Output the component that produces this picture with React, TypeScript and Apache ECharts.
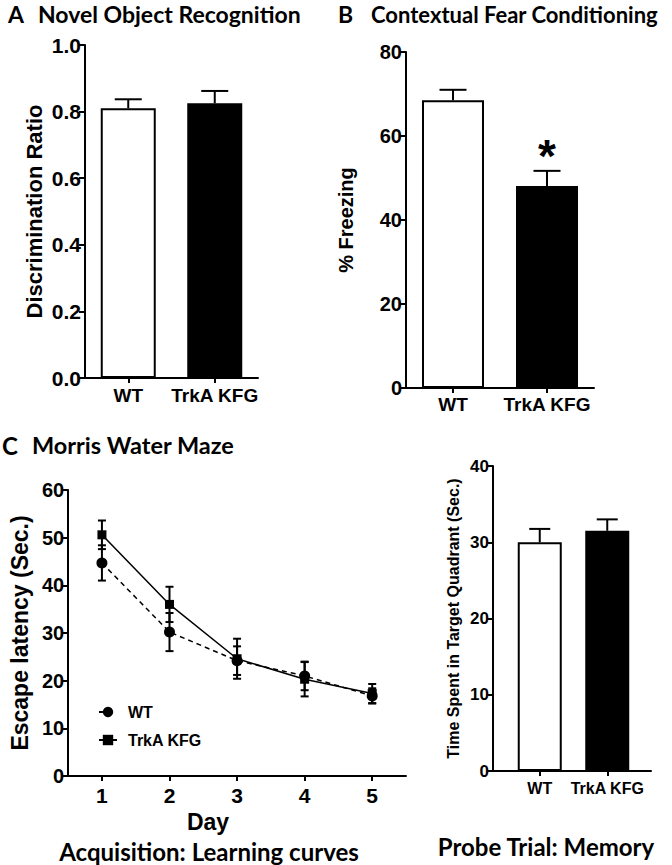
import React, { useEffect, useRef } from 'react';
import * as echarts from 'echarts';

const groups = ['WT', 'TrkA KFG'];
const norMean = [0.81, 0.825];
const norSem = [0.027, 0.037];
const fearMean = [68.5, 48.1];
const fearSem = [2.5, 3.6];
const fearSig = ['', '*'];
const days = ['1', '2', '3', '4', '5'];
const wtLatency = [44.7, 30.2, 24.2, 21.0, 16.8];
const wtLatencySem = [3.7, 4.0, 3.0, 3.0, 1.6];
const kfgLatency = [50.6, 36.0, 24.6, 20.3, 17.3];
const kfgLatencySem = [3.0, 3.7, 4.2, 3.6, 2.0];
const probeMean = [30.0, 31.5];
const probeSem = [1.75, 1.5];

const ARIAL = 'Liberation Sans, Arial, sans-serif';
const CAL = 'Lato, Carlito, sans-serif';
const BLACK = '#000';

const axisLine = { show: true, lineStyle: { color: BLACK, width: 2 } };
const axisTick = { show: true, length: 6, lineStyle: { color: BLACK, width: 2 } };

function upperErr(capHalf: number) {
  return (params: any, api: any) => {
    const i = api.value(0);
    const m = api.value(1);
    const e = api.value(2);
    const base = api.coord([i, m]);
    const top = api.coord([i, m + e]);
    const style = { stroke: BLACK, lineWidth: 2 };
    return {
      type: 'group',
      children: [
        { type: 'line', shape: { x1: base[0], y1: base[1], x2: top[0], y2: top[1] }, style },
        { type: 'line', shape: { x1: top[0] - capHalf, y1: top[1], x2: top[0] + capHalf, y2: top[1] }, style },
      ],
    };
  };
}

function bothErr(capHalf: number) {
  return (params: any, api: any) => {
    const i = api.value(0);
    const m = api.value(1);
    const e = api.value(2);
    const lo = api.coord([i, m - e]);
    const hi = api.coord([i, m + e]);
    const style = { stroke: BLACK, lineWidth: 2 };
    return {
      type: 'group',
      children: [
        { type: 'line', shape: { x1: lo[0], y1: lo[1], x2: hi[0], y2: hi[1] }, style },
        { type: 'line', shape: { x1: hi[0] - capHalf, y1: hi[1], x2: hi[0] + capHalf, y2: hi[1] }, style },
        { type: 'line', shape: { x1: lo[0] - capHalf, y1: lo[1], x2: lo[0] + capHalf, y2: lo[1] }, style },
      ],
    };
  };
}

const barColors = ['#fff', BLACK];

function barData(vals: number[]) {
  return vals.map((v, i) => ({
    value: v,
    itemStyle: { color: barColors[i], borderColor: BLACK, borderWidth: 2 },
  }));
}

function yAxisBase(gridIndex: number, min: number, max: number, interval: number, fontSize: number, name: string, nameSize: number, nameGap: number, decimals = 0) {
  return {
    type: 'value',
    gridIndex,
    min,
    max,
    interval,
    splitLine: { show: false },
    axisLine,
    axisTick,
    axisLabel: {
      color: BLACK,
      fontWeight: 'bold',
      fontSize,
      fontFamily: ARIAL,
      margin: 4,
      formatter: (v: number) => v.toFixed(decimals),
    },
    name,
    nameLocation: 'middle',
    nameGap,
    nameTextStyle: { color: BLACK, fontWeight: 'bold', fontSize: nameSize, fontFamily: ARIAL },
  };
}

function catAxis(gridIndex: number, data: string[], fontSize: number, margin: number) {
  return {
    type: 'category',
    gridIndex,
    data,
    axisLine,
    axisTick: { show: true, alignWithLabel: true, length: 5, lineStyle: { color: BLACK, width: 2 } },
    axisLabel: { color: BLACK, fontWeight: 'bold', fontSize, fontFamily: ARIAL, margin, interval: 0 },
    splitLine: { show: false },
  };
}

export default function App() {
  const ref = useRef<HTMLDivElement>(null);
  useEffect(() => {
    if (!ref.current) return;
    const chart = echarts.init(ref.current, undefined, { renderer: 'svg' });
    const titleStyle = (size: number) => ({ fill: BLACK, fontWeight: 'bold', fontSize: size, fontFamily: CAL });
    const option: any = {
      animation: false,
      backgroundColor: '#fff',
      grid: [
        { left: 85, top: 45, width: 173, height: 333 },
        { left: 406, top: 52, width: 188, height: 336 },
        { left: 61, top: 490, width: 345, height: 286 },
        { left: 506, top: 466, width: 135, height: 305 },
        { left: 493, top: 466, width: 158, height: 305 },
      ],
      legend: {
        data: ['WT', 'TrkA KFG'],
        left: 93,
        top: 699,
        orient: 'vertical',
        itemWidth: 18,
        itemHeight: 13,
        itemGap: 12,
        textStyle: { color: BLACK, fontWeight: 'bold', fontSize: 16, fontFamily: ARIAL, padding: [0, 0, 0, 6] },
      },
      xAxis: [
        catAxis(0, groups, 19, 8),
        catAxis(1, groups, 19, 7),
        catAxis(2, days, 21, 9),
        catAxis(3, groups, 16, 9),
        { type: 'value', gridIndex: 4, min: 0, max: 1, axisLine, axisTick: { show: false }, axisLabel: { show: false }, splitLine: { show: false } },
      ],
      yAxis: [
        yAxisBase(0, 0, 1, 0.2, 21, 'Discrimination Ratio', 22, 40, 1),
        yAxisBase(1, 0, 80, 20, 20, '% Freezing', 20, 50),
        yAxisBase(2, 0, 60, 10, 20, 'Escape latency (Sec.)', 23, 34),
        { type: 'value', gridIndex: 3, min: 0, max: 40, show: false, splitLine: { show: false } },
        yAxisBase(4, 0, 40, 10, 17, 'Time Spent in Target Quadrant (Sec.)', 16, 32),
      ],
      series: [
        { type: 'bar', xAxisIndex: 0, yAxisIndex: 0, barWidth: 55, data: barData(norMean) },
        { type: 'custom', xAxisIndex: 0, yAxisIndex: 0, z: 5, renderItem: upperErr(13.5), encode: { x: 0, y: 1 }, data: groups.map((g, i) => [i, norMean[i], norSem[i]]) },
        { type: 'bar', xAxisIndex: 1, yAxisIndex: 1, barWidth: 62, data: barData(fearMean) },
        { type: 'custom', xAxisIndex: 1, yAxisIndex: 1, z: 5, renderItem: upperErr(13.5), encode: { x: 0, y: 1 }, data: groups.map((g, i) => [i, fearMean[i], fearSem[i]]) },
        {
          type: 'scatter', xAxisIndex: 1, yAxisIndex: 1, symbolSize: 0, z: 6,
          itemStyle: { opacity: 1, color: BLACK },
          data: groups.map((g, i) => [i, fearMean[i] + fearSem[i] + 3.5, fearSig[i]]),
          label: { show: true, position: 'inside', formatter: (p: any) => p.value[2], color: BLACK, opacity: 1, fontSize: 46, fontWeight: 'bold', fontFamily: ARIAL },
        },
        {
          name: 'WT', type: 'line', xAxisIndex: 2, yAxisIndex: 2, data: wtLatency, symbol: 'circle', symbolSize: 11,
          itemStyle: { color: BLACK }, lineStyle: { color: BLACK, width: 1.5, type: [5, 4] }, z: 4,
        },
        {
          name: 'TrkA KFG', type: 'line', xAxisIndex: 2, yAxisIndex: 2, data: kfgLatency, symbol: 'rect', symbolSize: 9,
          itemStyle: { color: BLACK }, lineStyle: { color: BLACK, width: 1.5, type: 'solid' }, z: 4,
        },
        { type: 'custom', xAxisIndex: 2, yAxisIndex: 2, z: 5, renderItem: bothErr(4), encode: { x: 0, y: 1 }, data: days.map((d, i) => [i, wtLatency[i], wtLatencySem[i]]) },
        { type: 'custom', xAxisIndex: 2, yAxisIndex: 2, z: 5, renderItem: bothErr(4), encode: { x: 0, y: 1 }, data: days.map((d, i) => [i, kfgLatency[i], kfgLatencySem[i]]) },
        { type: 'bar', xAxisIndex: 3, yAxisIndex: 3, barWidth: 44, data: barData(probeMean) },
        { type: 'custom', xAxisIndex: 3, yAxisIndex: 3, z: 5, renderItem: upperErr(10.5), encode: { x: 0, y: 1 }, data: groups.map((g, i) => [i, probeMean[i], probeSem[i]]) },
      ],
      graphic: [
        { type: 'text', x: 8, y: 14, style: { text: 'A', ...titleStyle(23), textVerticalAlign: 'middle' } },
        { type: 'text', x: 38, y: 14, style: { text: 'Novel Object Recognition', ...titleStyle(23), textVerticalAlign: 'middle' } },
        { type: 'text', x: 338, y: 14, style: { text: 'B', ...titleStyle(23), textVerticalAlign: 'middle' } },
        { type: 'text', x: 371, y: 14, style: { text: 'Contextual Fear Conditioning', ...titleStyle(22), textVerticalAlign: 'middle' } },
        { type: 'text', x: 2, y: 445, style: { text: 'C', ...titleStyle(24), textVerticalAlign: 'middle' } },
        { type: 'text', x: 32, y: 445, style: { text: 'Morris Water Maze', ...titleStyle(23.5), textVerticalAlign: 'middle' } },
        { type: 'text', x: 208, y: 822, style: { text: 'Day', fill: BLACK, fontWeight: 'bold', fontSize: 23, fontFamily: ARIAL, textAlign: 'center', textVerticalAlign: 'middle' } },
        { type: 'text', x: 209, y: 851, style: { text: 'Acquisition: Learning curves', ...titleStyle(24), textAlign: 'center', textVerticalAlign: 'middle' } },
        { type: 'text', x: 546, y: 846, style: { text: 'Probe Trial: Memory', ...titleStyle(24), textAlign: 'center', textVerticalAlign: 'middle' } },
      ],
    };
    chart.setOption(option);
    return () => chart.dispose();
  }, []);
  return <div ref={ref} style={{ position: 'absolute', left: 0, top: 0, width: 672, height: 865, background: '#fff' }} />;
}
